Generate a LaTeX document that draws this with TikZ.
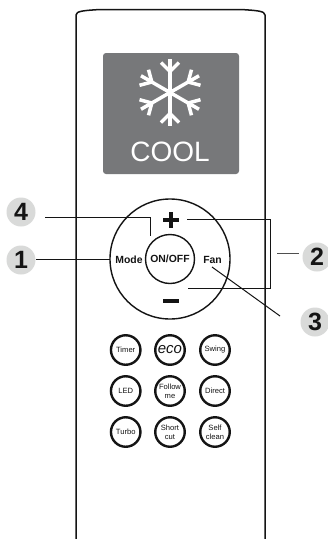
\documentclass[tikz,border=0pt]{standalone}
\usepackage{fontspec}
\setmainfont{Liberation Sans}
\definecolor{screen}{HTML}{77787A}
\definecolor{badgec}{HTML}{D9DAD9}
\definecolor{ink}{HTML}{141414}
\tikzset{
  x=1pt,y=-1pt,
  body/.style={draw=ink,line width=1.5pt,line join=round},
  ring/.style={circle,draw=ink,line width=1.4pt,inner sep=0pt,minimum size=#1},
  smallbtn/.style={circle,draw=ink,line width=2.4pt,inner sep=0pt,minimum size=29.5pt,align=center,
    font=\fontsize{7.6}{9}\selectfont,text=ink},
  badge/.style={circle,fill=badgec,inner sep=0pt,minimum size=29pt,font=\bfseries\fontsize{25}{25}\selectfont,text=ink},
  lead/.style={draw=ink,line width=1pt},
  keylabel/.style={inner sep=0pt,font=\bfseries\fontsize{10.4}{11}\selectfont,text=ink},
  flake/.style={draw=white,line width=3.5pt},
}
\begin{document}
\begin{tikzpicture}
\useasboundingbox (0,0) rectangle (328,539);
\fill[white] (0,0) rectangle (328,539);
% remote outline
\draw[body] (76,539) -- (76,15) .. controls (76,11) and (84,10.5) .. (100,9.5) -- (241,9.5) .. controls (257,10.5) and (265,11) .. (265,15) -- (265,539);
% screen
\fill[screen,rounded corners=3pt] (103,53) rectangle (239,174);
\foreach \a in {0,60,...,300}{
  \begin{scope}[shift={(170,92.5)},rotate=\a]
    \draw[flake] (0,0) -- (0,-33.5);
    \draw[flake] (-9,-30) -- (0,-21) -- (9,-30);
  \end{scope}
}
\node[inner sep=0pt,text=white,font=\fontsize{28}{28}\selectfont] (cool) at (170,152) {COOL};
% control rings
\node[ring=120pt] (dial) at (170,259) {};
\node[ring=49pt,font=\bfseries\fontsize{10.4}{11}\selectfont,text=ink] (onoff) at (170,259) {ON/OFF};
\node[keylabel] (mode) at (129,260) {Mode};
\node[keylabel] (fan) at (212.5,260) {Fan};
\draw[ink,line width=3.4pt] (163,220) -- (179,220) (171,212) -- (171,228);
\draw[ink,line width=3.4pt] (163,301) -- (179,301);
% badges
\node[badge] (b4) at (21,212) {4};
\node[badge] (b1) at (21,260) {1};
\node[badge] (b2) at (317,257) {2};
\node[badge] (b3) at (315,322) {3};
% leaders
\coordinate (l4a) at (45,217);
\coordinate (l4b) at (150,217);
\coordinate (l4c) at (150,236);
\draw[lead] (l4a) -- (l4b) -- (l4c);
\coordinate (l1a) at (36,259);
\coordinate (l1b) at (110,259);
\draw[lead] (l1a) -- (l1b);
\coordinate (l2a) at (187,219);
\coordinate (l2b) at (270,219);
\coordinate (l2c) at (270,288);
\coordinate (l2d) at (188,288);
\draw[lead] (l2a) -- (l2b) -- (l2c) -- (l2d);
\coordinate (l2e) at (277,253);
\coordinate (l2f) at (299,253);
\draw[draw=ink!75,line width=1pt] (l2e) -- (l2f);
\coordinate (l3a) at (212,267);
\coordinate (l3b) at (280,316);
\draw[lead] (l3a) -- (l3b);
% small buttons
\node[smallbtn] (timer) at (125.7,350) {Timer};
\node[smallbtn,font=\itshape\fontsize{15}{15}\selectfont] (eco) at (170,350) {eco};
\node[smallbtn] (swing) at (215,350) {Swing};
\node[smallbtn] (led) at (125.7,391) {LED};
\node[smallbtn] (follow) at (170,391) {Follow\\me};
\node[smallbtn] (direct) at (215,391) {Direct};
\node[smallbtn] (turbo) at (125.7,432) {Turbo};
\node[smallbtn] (short) at (170,432) {Short\\cut};
\node[smallbtn] (self) at (215,432) {Self\\clean};
\end{tikzpicture}
\end{document}
